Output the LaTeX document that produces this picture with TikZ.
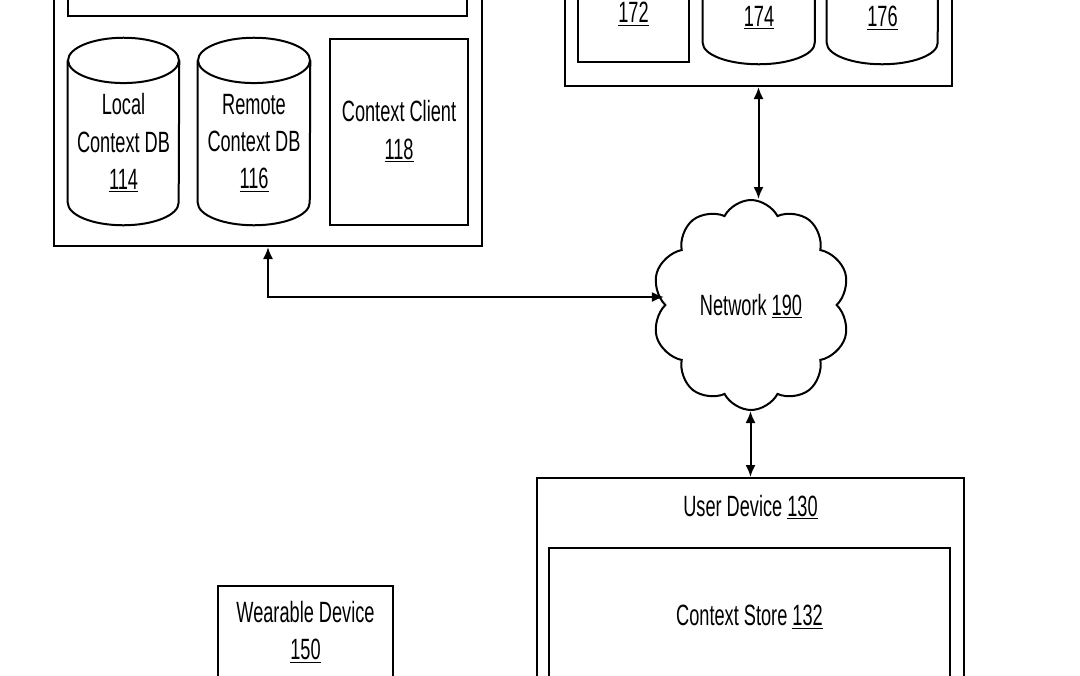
\documentclass[tikz,border=0pt]{standalone}
\usepackage{fontspec}
\newfontfamily\patfont{Liberation Sans}[FakeStretch=0.62]
\usetikzlibrary{shapes.symbols,arrows.meta}

\tikzset{
  box/.style={draw, line width=1.5pt, inner sep=0pt},
  canbody/.style={inner sep=0pt},
  can/.style={line width=1.5pt},
  txt/.style={font=\patfont\fontsize{22}{28}\selectfont, align=center, inner sep=0pt},
  conn/.style={line width=1.5pt, {Latex[length=9pt,width=7.5pt]}-{Latex[length=9pt,width=7.5pt]}}
}

\begin{document}
\begin{tikzpicture}[x=0.75pt,y=0.75pt,yscale=-1,xscale=1]
\useasboundingbox (0,0) rectangle (1080,675);
\clip (0,0) rectangle (1080,675);

%Shape: Rectangle [server box, cut off at top]
\node[box, minimum width=321pt, minimum height=222pt] (srv) at (268,98) {};
\node[box, minimum width=299.25pt, minimum height=49.5pt] (srvtop) at (267.5,-17) {};
%Shape: Can
\node[canbody, minimum width=83.25pt, minimum height=140.25pt] (localdb) at (123.5,131.5) {};
\draw[can] ([yshift=17pt]localdb.north west) -- ([yshift=-17pt]localdb.south west) arc[start angle=180, end angle=0, x radius=41.6pt, y radius=17pt] -- ([yshift=17pt]localdb.north east);
\draw[can] ([yshift=17pt]localdb.north) ellipse [x radius=41.6pt, y radius=17pt];
%Shape: Can
\node[canbody, minimum width=84pt, minimum height=140.25pt] (remotedb) at (254,131.5) {};
\draw[can] ([yshift=17pt]remotedb.north west) -- ([yshift=-17pt]remotedb.south west) arc[start angle=180, end angle=0, x radius=42pt, y radius=17pt] -- ([yshift=17pt]remotedb.north east);
\draw[can] ([yshift=17pt]remotedb.north) ellipse [x radius=42pt, y radius=17pt];
%Shape: Rectangle
\node[box, minimum width=103.5pt, minimum height=139.5pt] (client) at (399,132) {};

%Shape: Rectangle [top right box, cut off at top]
\node[box, minimum width=290.25pt, minimum height=117pt] (trbox) at (758.5,8) {};
\node[box, minimum width=83.25pt, minimum height=84pt] (unit172) at (633.5,6) {};
%Shape: Can
\node[canbody, minimum width=84pt, minimum height=108pt] (db174) at (759,-8) {};
\draw[can] ([yshift=16pt]db174.north west) -- ([yshift=-16pt]db174.south west) arc[start angle=180, end angle=0, x radius=42pt, y radius=16pt] -- ([yshift=16pt]db174.north east);
%Shape: Can
\node[canbody, minimum width=83.25pt, minimum height=108pt] (db176) at (882.5,-8) {};
\draw[can] ([yshift=16pt]db176.north west) -- ([yshift=-16pt]db176.south west) arc[start angle=180, end angle=0, x radius=41.6pt, y radius=16pt] -- ([yshift=16pt]db176.north east);

%Shape: Cloud
\node[cloud, draw, line width=1.5pt, cloud puffs=10, cloud puff arc=125, minimum width=148.5pt, minimum height=157.5pt] (net) at (751,305) {};

%Shape: Rectangle [user device, cut off at bottom]
\node[box, minimum width=320.25pt, minimum height=196.5pt] (ud) at (750.5,609) {};
\node[box, minimum width=300.75pt, minimum height=129pt] (store) at (749.5,634) {};
%Shape: Rectangle [wearable, cut off at bottom]
\node[box, minimum width=131.25pt, minimum height=115.5pt] (wear) at (305.5,663) {};

%Straight Lines
\draw[conn] (trbox.south) -- (net.north -| trbox.south);
\draw[conn] (srv.south) |- ([yshift=-6pt]net.west);
\draw[conn] (net.south -| ud.north) -- (ud.north);

% Text Node
\node[txt] (localtxt) at (123.5,143) {Local\\Context DB\\\underline{114}};
% Text Node
\node[txt] (remotetxt) at (254,143) {Remote\\Context DB\\\underline{116}};
% Text Node
\node[txt] (clienttxt) at (399,131.5) {Context Client\\\underline{118}};
% Text Node
\node[txt] (txt172) at (633.5,14) {\underline{172}};
% Text Node
\node[txt] (txt174) at (759,18) {\underline{174}};
% Text Node
\node[txt] (txt176) at (882.5,18) {\underline{176}};
% Text Node
\node[txt] (nettxt) at (751,306) {Network \underline{190}};
% Text Node
\node[txt] (udtxt) at (750.5,507) {User Device \underline{130}};
% Text Node
\node[txt] (storetxt) at (749.5,617) {Context Store \underline{132}};
% Text Node
\node[txt] (weartxt) at (305.5,632) {Wearable Device\\\underline{150}};
\end{tikzpicture}
\end{document}
